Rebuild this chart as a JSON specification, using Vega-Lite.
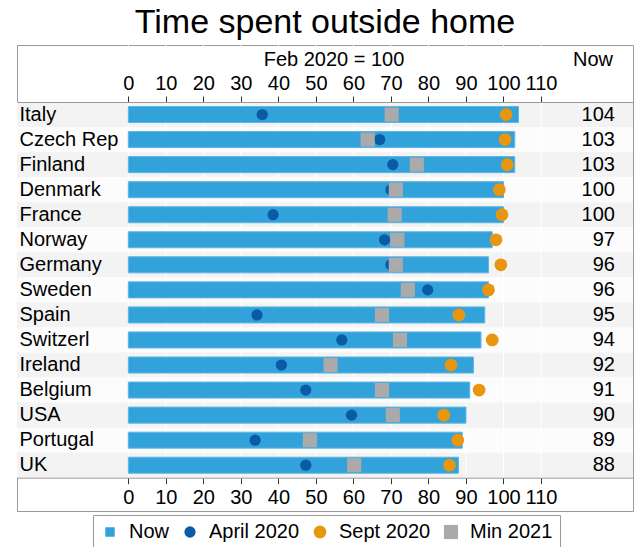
{
  "$schema": "https://vega.github.io/schema/vega-lite/v6.json",
  "width": 616,
  "height": 466,
  "autosize": "none",
  "padding": {"left": 17, "top": 45, "right": 7, "bottom": 36},
  "background": "white",
  "title": {"text": "Time spent outside home", "fontSize": 34, "font": "Liberation Sans", "fontWeight": "normal", "color": "black", "anchor": "middle", "frame": "group", "baseline": "alphabetic", "offset": -22},
  "config": {"font": "Liberation Sans", "view": {"stroke": "#9a9a9a", "strokeWidth": 1}},
  "data": {"values": [
    {"country": "Italy", "Now": 104, "April 2020": 35.7, "Sept 2020": 100.7, "Min 2021": 70.2},
    {"country": "Czech Rep", "Now": 103, "April 2020": 67, "Sept 2020": 100.4, "Min 2021": 63.8},
    {"country": "Finland", "Now": 103, "April 2020": 70.5, "Sept 2020": 101, "Min 2021": 76.9},
    {"country": "Denmark", "Now": 100, "April 2020": 70, "Sept 2020": 98.9, "Min 2021": 71.3},
    {"country": "France", "Now": 100, "April 2020": 38.6, "Sept 2020": 99.6, "Min 2021": 71},
    {"country": "Norway", "Now": 97, "April 2020": 68.3, "Sept 2020": 98, "Min 2021": 71.7},
    {"country": "Germany", "Now": 96, "April 2020": 70, "Sept 2020": 99.3, "Min 2021": 71.3},
    {"country": "Sweden", "Now": 96, "April 2020": 79.8, "Sept 2020": 96, "Min 2021": 74.5},
    {"country": "Spain", "Now": 95, "April 2020": 34.3, "Sept 2020": 88.1, "Min 2021": 67.6},
    {"country": "Switzerl", "Now": 94, "April 2020": 56.9, "Sept 2020": 97, "Min 2021": 72.4},
    {"country": "Ireland", "Now": 92, "April 2020": 40.8, "Sept 2020": 86, "Min 2021": 53.9},
    {"country": "Belgium", "Now": 91, "April 2020": 47.3, "Sept 2020": 93.5, "Min 2021": 67.6},
    {"country": "USA", "Now": 90, "April 2020": 59.5, "Sept 2020": 84.1, "Min 2021": 70.5},
    {"country": "Portugal", "Now": 89, "April 2020": 33.8, "Sept 2020": 87.8, "Min 2021": 48.4},
    {"country": "UK", "Now": 88, "April 2020": 47.3, "Sept 2020": 85.6, "Min 2021": 60.2}
  ]},
  "layer": [
    {
      "transform": [{"window": [{"op": "row_number", "as": "rank"}]}],
      "mark": {"type": "rect"},
      "encoding": {
        "y": {"field": "country", "type": "nominal", "sort": null,
          "scale": {"type": "band", "paddingInner": 0, "paddingOuter": 0, "range": [57, 432.75]},
          "axis": {"orient": "left", "domain": false, "ticks": false, "grid": false, "title": null, "labelAlign": "left", "labelPadding": -2, "labelFontSize": 20, "labelColor": "black", "labelBaseline": "middle", "zindex": 1}},
        "fill": {"condition": {"test": "datum.rank % 2 == 1", "value": "#f3f3f3"}, "value": "#fcfcfc"}
      }
    },
    {
      "data": {"values": [{"tick": 0}, {"tick": 10}, {"tick": 20}, {"tick": 30}, {"tick": 40}, {"tick": 50}, {"tick": 60}, {"tick": 70}, {"tick": 80}, {"tick": 90}, {"tick": 100}, {"tick": 110}]},
      "mark": {"type": "rule", "color": "white", "strokeWidth": 1},
      "encoding": {
        "x": {"field": "tick", "type": "quantitative",
          "axis": {"orient": "bottom", "values": [0, 10, 20, 30, 40, 50, 60, 70, 80, 90, 100, 110], "offset": -33.3, "title": null, "grid": false, "domainColor": "#9a9a9a", "tickColor": "#333333", "tickSize": 6, "labelFontSize": 20, "labelColor": "black", "labelBaseline": "alphabetic", "labelPadding": 20, "labelFlush": false, "labelOverlap": false, "zindex": 1}}
      }
    },
    {
      "transform": [{"fold": ["Now"], "as": ["series", "value"]}],
      "mark": {"type": "bar", "height": {"band": 0.64}, "stroke": "#5fb6e4", "strokeWidth": 1},
      "encoding": {
        "y": {"field": "country", "type": "nominal", "sort": null,
          "scale": {"type": "band", "paddingInner": 0, "paddingOuter": 0, "range": [57, 432.75]},
          "axis": {"orient": "left", "domain": false, "ticks": false, "grid": false, "title": null, "labelAlign": "left", "labelPadding": -2, "labelFontSize": 20, "labelColor": "black", "labelBaseline": "middle", "zindex": 1}},
        "x": {"field": "value", "type": "quantitative",
          "scale": {"domain": [-29.67, 134.52], "nice": false, "zero": false},
          "axis": {"orient": "top", "values": [0, 10, 20, 30, 40, 50, 60, 70, 80, 90, 100, 110], "offset": -57, "title": null, "grid": false, "domainColor": "#9a9a9a", "tickColor": "#333333", "tickSize": 6, "labelFontSize": 20, "labelColor": "black", "labelBaseline": "alphabetic", "labelPadding": 7, "labelFlush": false, "labelOverlap": false, "zindex": 1}},
        "color": {"field": "series", "type": "nominal",
          "scale": {"domain": ["Now", "April 2020", "Sept 2020", "Min 2021"], "range": ["#32a2da", "#0a5ba6", "#e8950f", "#aaaaaa"]},
          "legend": {"orient": "none", "legendX": 76, "legendY": 470, "direction": "horizontal", "title": null, "strokeColor": "#9a9a9a", "fillColor": "white", "padding": 7, "labelFontSize": 20, "labelColor": "black", "labelOffset": 9, "columnPadding": 10, "symbolStrokeWidth": 0}}
      }
    },
    {
      "transform": [{"fold": ["April 2020", "Sept 2020", "Min 2021"], "as": ["series", "value"]}],
      "mark": {"type": "point", "filled": true, "opacity": 1},
      "encoding": {
        "y": {"field": "country", "type": "nominal", "sort": null,
          "scale": {"type": "band", "paddingInner": 0, "paddingOuter": 0, "range": [57, 432.75]},
          "axis": {"orient": "left", "domain": false, "ticks": false, "grid": false, "title": null, "labelAlign": "left", "labelPadding": -2, "labelFontSize": 20, "labelColor": "black", "labelBaseline": "middle", "zindex": 1}},
        "x": {"field": "value", "type": "quantitative", "axis": null},
        "color": {"field": "series", "type": "nominal",
          "scale": {"domain": ["Now", "April 2020", "Sept 2020", "Min 2021"], "range": ["#32a2da", "#0a5ba6", "#e8950f", "#aaaaaa"]},
          "legend": {"orient": "none", "legendX": 76, "legendY": 470, "direction": "horizontal", "title": null, "strokeColor": "#9a9a9a", "fillColor": "white", "padding": 7, "labelFontSize": 20, "labelColor": "black", "labelOffset": 9, "columnPadding": 10, "symbolStrokeWidth": 0}},
        "shape": {"field": "series", "type": "nominal",
          "scale": {"domain": ["Now", "April 2020", "Sept 2020", "Min 2021"], "range": ["square", "circle", "circle", "square"]}},
        "size": {"field": "series", "type": "nominal",
          "scale": {"domain": ["Now", "April 2020", "Sept 2020", "Min 2021"], "range": [90, 200, 200, 144]}}
      }
    },
    {
      "mark": {"type": "text", "align": "right", "baseline": "middle", "fontSize": 20, "color": "black"},
      "encoding": {
        "y": {"field": "country", "type": "nominal", "sort": null,
          "scale": {"type": "band", "paddingInner": 0, "paddingOuter": 0, "range": [57, 432.75]},
          "axis": {"orient": "left", "domain": false, "ticks": false, "grid": false, "title": null, "labelAlign": "left", "labelPadding": -2, "labelFontSize": 20, "labelColor": "black", "labelBaseline": "middle", "zindex": 1}},
        "x": {"datum": 129.72, "type": "quantitative",
          "axis": {"orient": "top", "values": [54.7, 123.72], "labelExpr": "datum.value < 100 ? 'Feb 2020 = 100' : 'Now'", "offset": -20, "domain": false, "ticks": false, "grid": false, "title": null, "labelFontSize": 20, "labelColor": "black", "labelBaseline": "alphabetic", "labelPadding": 0, "labelFlush": false, "labelOverlap": false, "labelBound": false, "zindex": 1}},
        "text": {"field": "Now", "type": "quantitative"}
      }
    }
  ],
  "resolve": {"axis": {"x": "independent"}}
}
